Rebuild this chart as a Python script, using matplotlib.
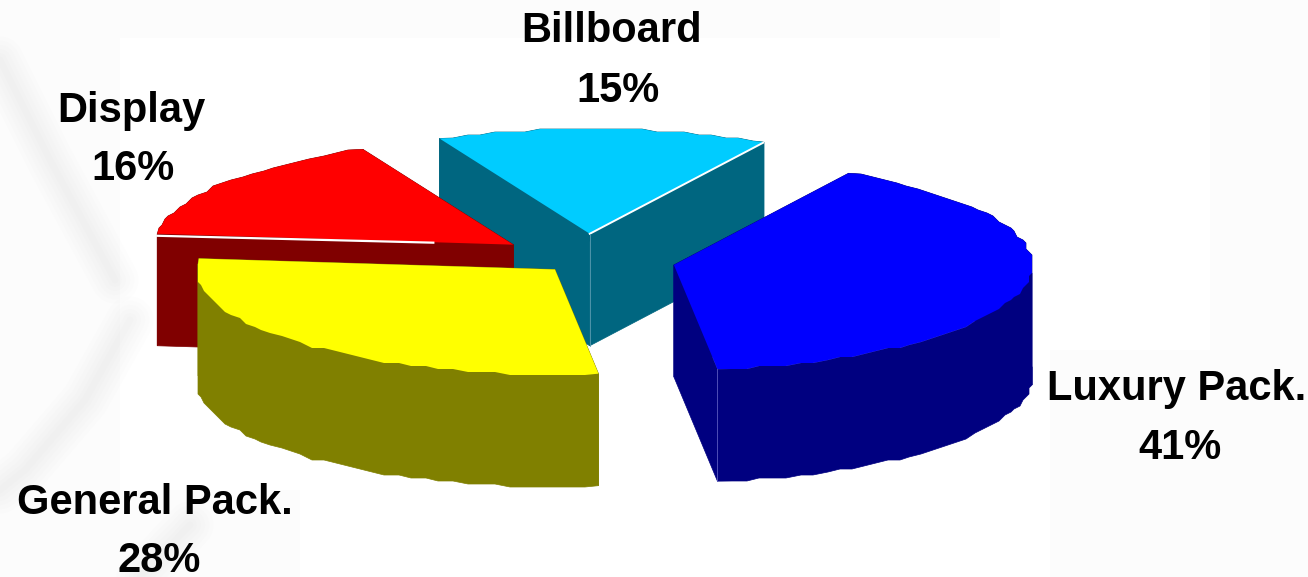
import matplotlib
matplotlib.use('Agg')
import matplotlib.pyplot as plt
import numpy as np

names = ['Luxury Pack.', 'Billboard', 'Display', 'General Pack.']
shares = [41, 15, 16, 28]
explode = [0.25, 0.25, 0.25, 0.125]
top_colors = ['#0000ff', '#00ccff', '#ff0000', '#ffff00']
side_colors = ['#000080', '#006680', '#800000', '#808000']
# label anchors (centre x, baseline y), name line then percent line
name_pos = [(1177, 400), (612, 42), (131, 122), (155, 514)]
pct_pos = [(1180, 459), (618, 102), (133, 180), (159, 572)]
draw_order = [1, 2, 3, 0]

cx, cy = 586, 260
rx, ry = 358, 105
depth = 112
start = -84


def warp(t):
    # pie is seen in perspective, so angles on the ellipse are a bit squeezed
    return t - 1 - 2 * np.sin(np.radians(t))


def wedge(i):
    t0 = start + sum(shares[:i]) * 3.6
    t1 = t0 + shares[i] * 3.6
    mid = np.radians(warp((t0 + t1) / 2))
    ax0 = cx + explode[i] * rx * np.cos(mid)
    ay0 = cy - explode[i] * ry * np.sin(mid)
    ts = np.radians(warp(np.linspace(t0, t1, int(shares[i] * 1.6))))
    x = ax0 + rx * np.cos(ts)
    y = ay0 - ry * np.sin(ts)
    # chunky outline, the rim is stepped rather than smooth
    x[1:-1] = np.round(x[1:-1] / 3) * 3
    y[1:-1] = np.round(y[1:-1] / 3) * 3
    return ax0, ay0, x, y


fig = plt.figure(figsize=(13.08, 5.77), dpi=100, facecolor='white')
ax = fig.add_axes([0, 0, 1, 1])
ax.set_xlim(0, 1308)
ax.set_ylim(577, 0)
ax.axis('off')

# pale backdrop blocks and soft streaks
for x0, y0, w, h in [(0, 0, 1000, 38), (0, 0, 120, 577), (1050, 350, 258, 227),
                     (1210, 0, 98, 350), (0, 490, 300, 87)]:
    ax.fill([x0, x0 + w, x0 + w, x0], [y0, y0, y0 + h, y0 + h], color='#fcfcfc', lw=0, zorder=0)
for xs, ys in [([0, 50, 115], [60, 160, 280]), ([130, 85, 25, 0], [320, 400, 470, 490]),
               ([190, 140], [525, 577])]:
    for lw in [34, 28, 22, 16, 10, 5]:
        ax.plot(xs, ys, color='#808080', lw=lw, alpha=0.012, solid_capstyle='round', zorder=0)

for order, i in enumerate(draw_order):
    ax0, ay0, x, y = wedge(i)
    z = 2 + order * 3

    # sides: the two radial walls and the rim wall below the top face
    for ex, ey in [(x[0], y[0]), (x[-1], y[-1])]:
        ax.fill([ax0, ex, ex, ax0], [ay0, ey, ey + depth, ay0 + depth],
                color=side_colors[i], lw=0.5, zorder=z - 1)
    # rim wall split where the outline turns back in x, so it never folds over itself
    cuts = sorted({0, int(np.argmax(x)), int(np.argmin(x)), len(x) - 1})
    for a, b in zip(cuts[:-1], cuts[1:]):
        xs, ys = x[a:b + 1], y[a:b + 1]
        ax.fill(np.r_[xs, xs[::-1]], np.r_[ys, ys[::-1] + depth],
                color=side_colors[i], lw=0.5, zorder=z - 1)

    ax.fill(np.r_[ax0, x], np.r_[ay0, y], color=top_colors[i], lw=0, zorder=z)

    # thin highlights along the edges that face the viewer
    if names[i] == 'Billboard':
        ax.plot([ax0, x[0]], [ay0, y[0]], color='white', lw=1.4, zorder=z)
        ax.plot([ax0, ax0], [ay0, ay0 + depth], color='#5a9bb0', lw=0.6, zorder=z)
        ax.plot([x[0], x[0]], [y[0], y[0] + depth], color='#9cc4d0', lw=0.7, zorder=z)
    elif names[i] == 'Display':
        ax.plot([ax0 - 80, x[-1]], [ay0 - 2, y[-1] + 2], color='white', lw=1.6, zorder=z)
    elif names[i] == 'Luxury Pack.':
        ax.plot([x[0], x[0]], [y[0], y[0] + depth], color='#5a5ac0', lw=0.6, zorder=z)

for i in range(len(names)):
    ax.text(*name_pos[i], names[i], ha='center', va='baseline', fontsize=30,
            fontweight='bold', family='Liberation Sans', color='black', zorder=20)
    ax.text(*pct_pos[i], f'{shares[i]}%', ha='center', va='baseline', fontsize=30,
            fontweight='bold', family='Liberation Sans', color='black', zorder=20)

fig.savefig('out.png', dpi=100, facecolor='white')
